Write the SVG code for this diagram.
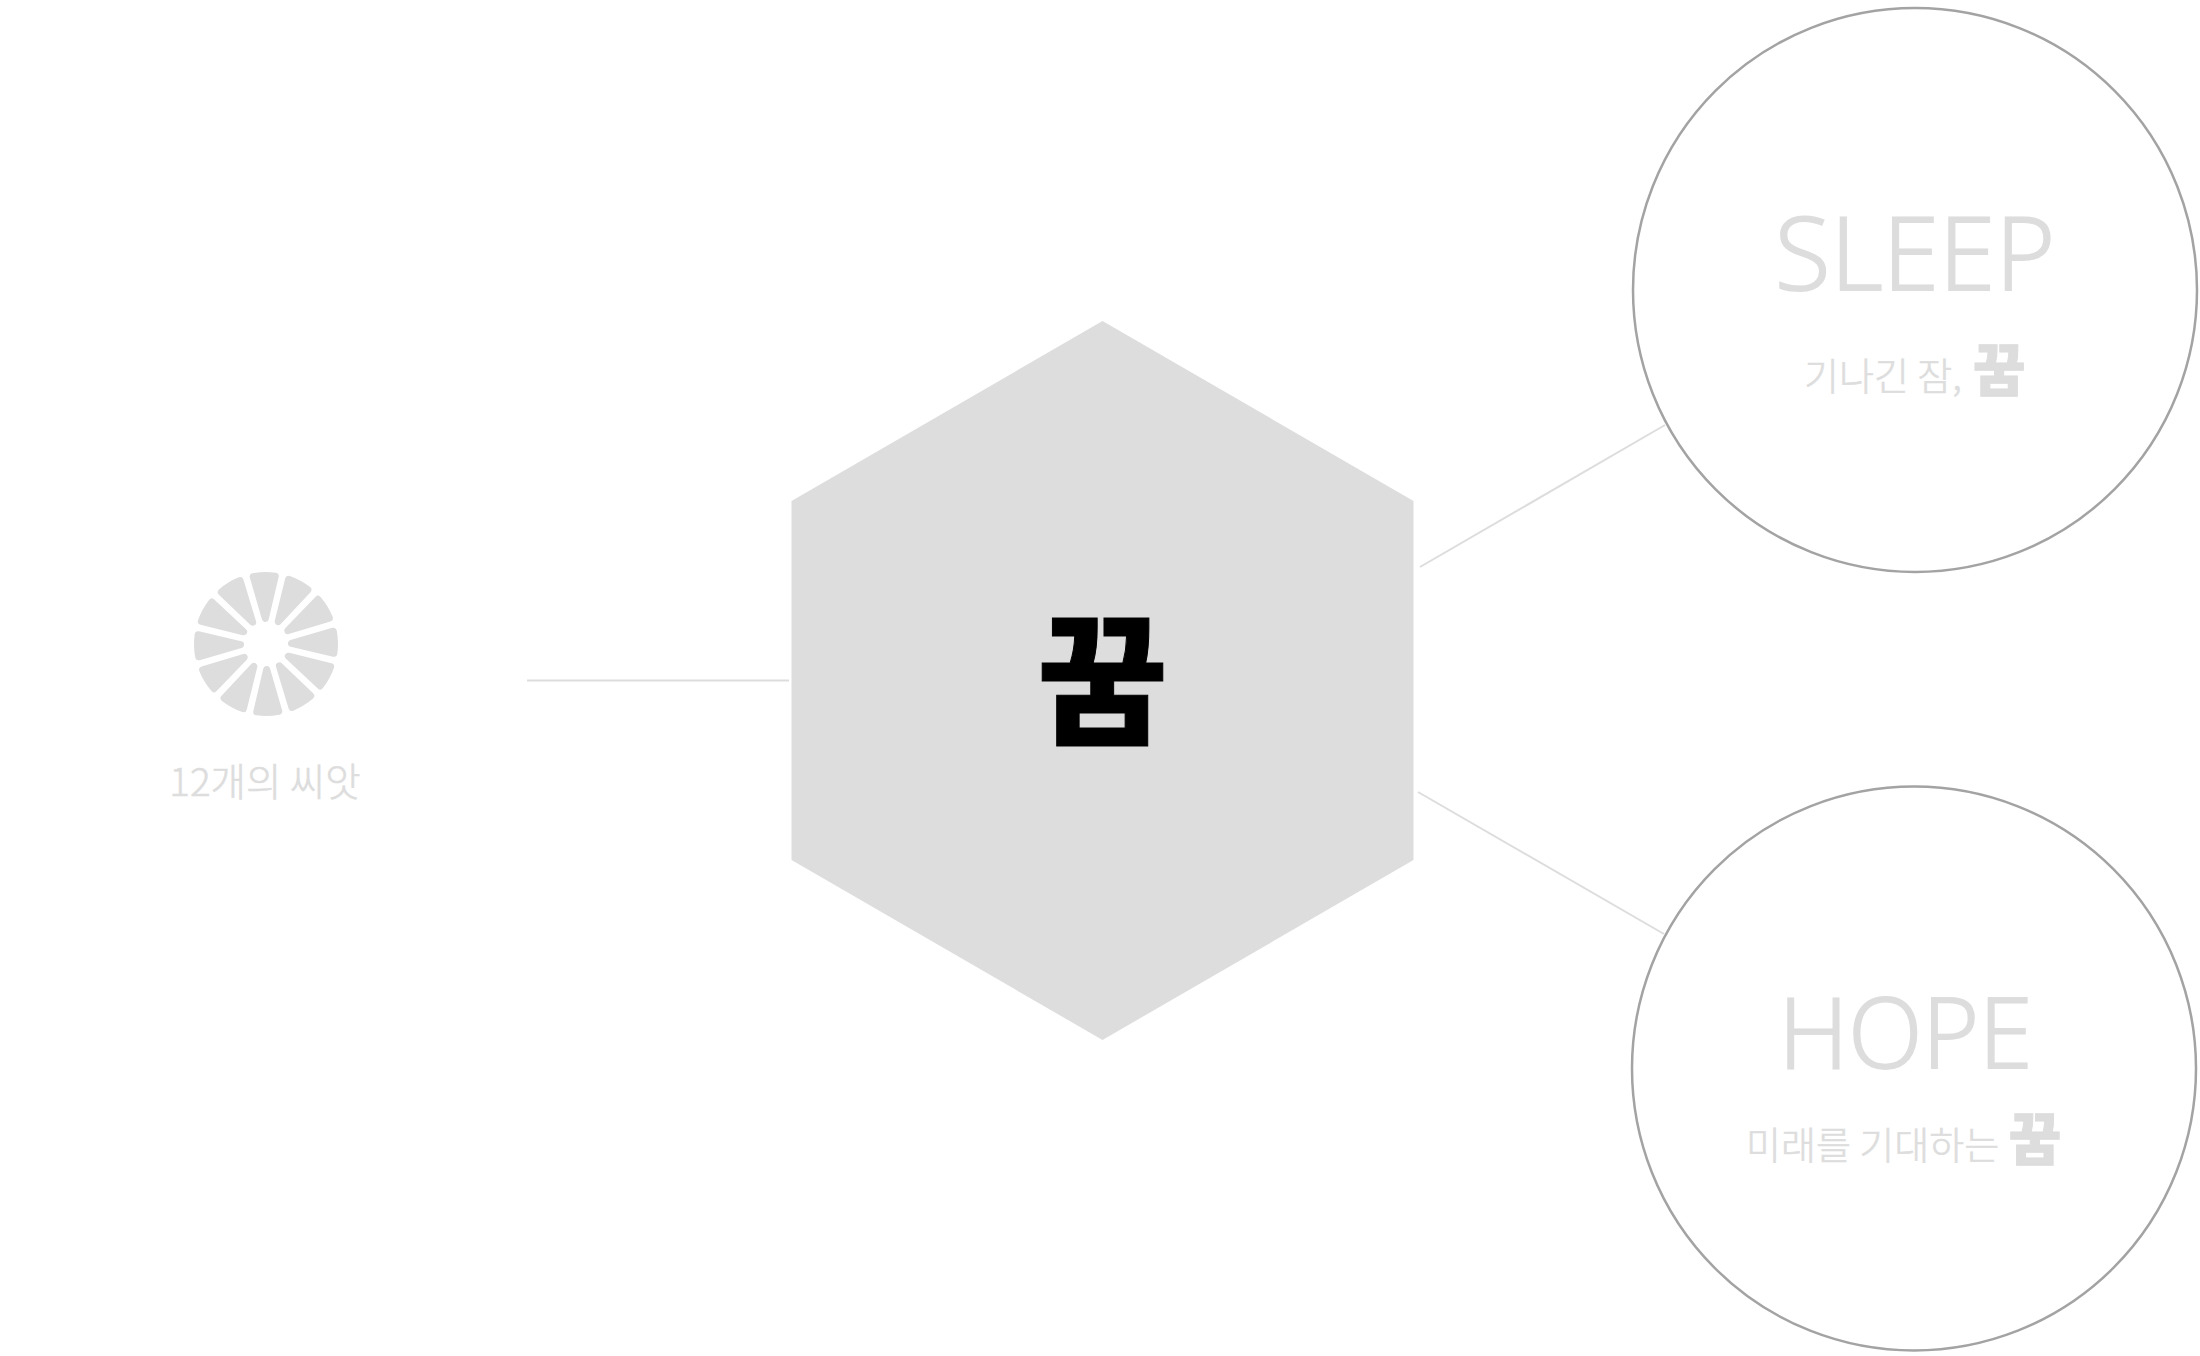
<svg xmlns="http://www.w3.org/2000/svg" width="2200" height="1356" viewBox="0 0 2200 1356">
<style>
text{font-family:"Noto Sans CJK KR","Noto Sans",sans-serif;fill:#dddddd}
.en{font-family:"Open Sans","Noto Sans",sans-serif;font-weight:300;text-anchor:middle;stroke:#dddddd;stroke-width:2px}
.ko{font-size:38px;font-weight:300;stroke:#dddddd;stroke-width:.6px}
.b{font-weight:900;stroke:#dddddd;stroke-width:1px}
.ring{fill:none;stroke:#a3a3a3;stroke-width:2.5}
.link{fill:none;stroke:#dddddd;stroke-width:2}
.petal{fill:#dddddd;stroke:#dddddd;stroke-width:7;stroke-linejoin:round}
</style>
<defs><path id="p" d="M0,-25.500L-11,-67.600A68.500,68.500 0 0 1 11,-67.600Z"/></defs>
<g id="connectors">
<line class="link" x1="527" y1="680.5" x2="789" y2="680.5"/>
<line class="link" x1="1420" y1="567" x2="1665" y2="425"/>
<line class="link" x1="1418" y1="792" x2="1664" y2="934"/>
</g>
<g id="seeds">
<g class="petal" transform="translate(266 644) rotate(-1.5)">
<use href="#p"/><use href="#p" transform="rotate(30)"/><use href="#p" transform="rotate(60)"/><use href="#p" transform="rotate(90)"/><use href="#p" transform="rotate(120)"/><use href="#p" transform="rotate(150)"/><use href="#p" transform="rotate(180)"/><use href="#p" transform="rotate(210)"/><use href="#p" transform="rotate(240)"/><use href="#p" transform="rotate(270)"/><use href="#p" transform="rotate(300)"/><use href="#p" transform="rotate(330)"/>
</g>
<text class="ko" x="265" y="796" style="font-size:38.5px" text-anchor="middle">12개의 씨앗</text>
</g>
<g id="dream">
<polygon points="1102.5,321 1413.5,501 1413.5,860 1102.5,1040 791.5,860 791.5,501" fill="#dddddd"/>
<text x="1102.5" y="733" font-size="142" font-weight="900" text-anchor="middle" style="fill:#000;stroke:#000;stroke-width:1px">꿈</text>
</g>
<g id="sleep">
<circle class="ring" cx="1915" cy="290" r="282"/>
<text class="en" x="1915" y="290" font-size="102">SLEEP</text>
<text class="ko" x="1804" y="390">기나긴 잠,</text>
<text x="1999.3" y="390.500" font-size="57" class="b" text-anchor="middle">꿈</text>
</g>
<g id="hope">
<circle class="ring" cx="1914" cy="1068.5" r="282"/>
<text class="en" x="1905.5" y="1067.5" font-size="97">HOPE</text>
<text class="ko" x="1746" y="1158.5">미래를 기대하는</text>
<text x="2035" y="1159.500" font-size="57" class="b" text-anchor="middle">꿈</text>
</g>
</svg>
